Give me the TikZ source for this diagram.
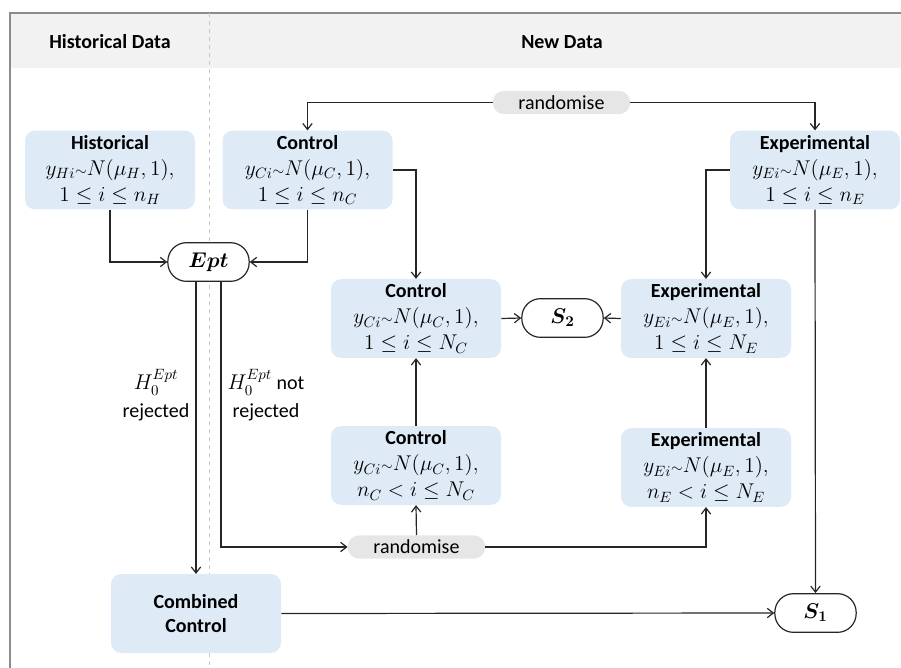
\RequirePackage{fix-cm}
\documentclass[tikz,border=0pt]{standalone}
\usepackage{amsmath,bm}
\usepackage{fontspec}
\setmainfont{Carlito}
\usetikzlibrary{arrows.meta}
\definecolor{boxblue}{RGB}{222,234,246}
\definecolor{pillgray}{RGB}{230,230,230}
\definecolor{bandgray}{RGB}{242,242,242}
\definecolor{linec}{RGB}{38,38,38}
\definecolor{framec}{RGB}{140,140,140}
\definecolor{dashc}{RGB}{200,200,200}
\newcommand{\tld}{\mathord{\scriptstyle\sim}}
\newcommand{\mymath}[1]{{\fontsize{16}{19.5}\selectfont$#1$}}
\begin{document}
\begin{tikzpicture}[x=0.75pt,y=-0.75pt,
  font=\fontsize{15}{19.5}\selectfont,
  box/.style={fill=boxblue, rounded corners=7.5pt, minimum width=127.5pt, minimum height=59pt, align=center, inner sep=1pt},
  pill/.style={draw=linec, line width=0.9pt, fill=white, rounded corners=14pt, minimum width=61pt, minimum height=29pt, inner sep=0pt},
  rpill/.style={fill=pillgray, rounded corners=8.5pt, minimum width=103pt, minimum height=17.5pt, inner sep=0pt},
  arr/.style={draw=linec, line width=0.9pt, -{Straight Barb[length=4.5pt,width=7pt]}},
  lbl/.style={align=center, font=\fontsize{15}{21}\selectfont}
]
\useasboundingbox (0,0) rectangle (901,668);
% frame and header
\fill[bandgray] (10,13) rectangle (901,68);
\draw[framec, line width=0.8pt] (10,668) -- (10,13) -- (901,13);
\draw[dashc, dashed, line width=0.6pt] (209,13) -- (209,668);
\node[font=\bfseries\fontsize{15}{18}\selectfont] (hh) at (110,42) {Historical Data};
\node[font=\bfseries\fontsize{15}{18}\selectfont] (hn) at (562,42) {New Data};

% nodes
\node[box] (hist) at (110,170) {\textbf{Historical}\\ \mymath{y_{Hi}\tld N(\mu_H,1),}\\ \mymath{1\le i\le n_H}};
\node[box] (ctop) at (307.5,170) {\textbf{Control}\\ \mymath{y_{Ci}\tld N(\mu_C,1),}\\ \mymath{1\le i\le n_C}};
\node[box] (etop) at (815,170) {\textbf{Experimental}\\ \mymath{y_{Ei}\tld N(\mu_E,1),}\\ \mymath{1\le i\le n_E}};
\node[rpill] (rtop) at (561.5,102.5) {randomise};
\node[pill] (ept) at (208.5,262) {\mymath{\bm{Ept}}};
\node[box] (cmid) at (416,318.5) {\textbf{Control}\\ \mymath{y_{Ci}\tld N(\mu_C,1),}\\ \mymath{1\le i\le N_C}};
\node[box] (emid) at (706,318.5) {\textbf{Experimental}\\ \mymath{y_{Ei}\tld N(\mu_E,1),}\\ \mymath{1\le i\le N_E}};
\node[pill] (s2) at (562.5,318) {\mymath{\bm{S_2}}};
\node[box] (clow) at (416,465.5) {\textbf{Control}\\ \mymath{y_{Ci}\tld N(\mu_C,1),}\\ \mymath{n_C< i\le N_C}};
\node[box] (elow) at (706,467.5) {\textbf{Experimental}\\ \mymath{y_{Ei}\tld N(\mu_E,1),}\\ \mymath{n_E< i\le N_E}};
\node[rpill] (rbot) at (416.5,547) {randomise};
\node[box, font=\bfseries\fontsize{15}{18}\selectfont] (comb) at (196,613.5) {Combined\\Control};
\node[pill] (s1) at (815.5,613) {\mymath{\bm{S_1}}};

% labels
\node[lbl] (l1) at (156,395) {\mymath{H_0^{Ept}}\\rejected};
\node[lbl] (l2) at (266,395) {\mymath{H_0^{Ept}} not\\rejected};

% connectors
\draw[arr] (rtop.west) -| (ctop.north);
\draw[arr] (rtop.east) -| (etop.north);
\draw[arr] (hist.south) |- (ept.west);
\draw[arr] (ctop.south) |- (ept.east);
\draw[arr] (ctop.east) -| (cmid.north);
\draw[arr] (etop.west) -| (emid.north);
\draw[arr] (cmid.east) -- (s2.west);
\draw[arr] (emid.west) -- (s2.east);
\draw[arr] (clow.north) -- (cmid.south);
\draw[arr] (elow.north) -- (emid.south);
\draw[arr] (rbot.north) -- (clow.south);
\draw[arr] (rbot.east) -| (elow.south);
\draw[arr] (comb.north |- ept.south) -- (comb.north);
\draw[arr] ([xshift=9.4pt]ept.south) |- (rbot.west);
\draw[arr] (comb.east) -- (s1.west);
\draw[arr] (etop.south) -- (s1.north);
\end{tikzpicture}
\end{document}
